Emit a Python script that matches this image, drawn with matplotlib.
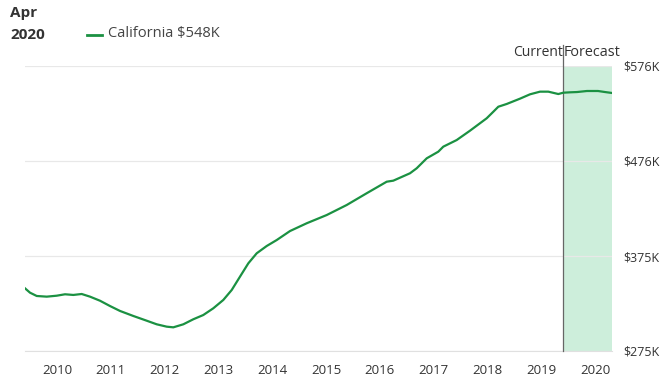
import matplotlib
matplotlib.use("Agg")
import matplotlib.pyplot as plt

plt.rcParams["font.family"] = ["Open Sans", "DejaVu Sans"]

# decimal year / median home value ($K)
years = [2009.405, 2009.498, 2009.623, 2009.809, 2009.994, 2010.149, 2010.303,
         2010.459, 2010.613, 2010.799, 2010.985, 2011.171, 2011.418, 2011.667,
         2011.853, 2012.039, 2012.162, 2012.348, 2012.533, 2012.719, 2012.905,
         2013.091, 2013.247, 2013.401, 2013.556, 2013.712, 2013.898, 2014.084,
         2014.331, 2014.641, 2015.013, 2015.385, 2015.756, 2016.128, 2016.251,
         2016.561, 2016.686, 2016.872, 2017.087, 2017.180, 2017.429, 2017.677,
         2017.987, 2018.110, 2018.203, 2018.359, 2018.606, 2018.792, 2018.978,
         2019.132, 2019.318, 2019.411, 2019.535, 2019.665, 2019.851, 2020.056,
         2020.186, 2020.316]
values = [341.2, 336.6, 333.1, 332.4, 333.4, 334.9, 334.2,
          335.2, 332.4, 328.1, 322.5, 317.3, 312.0, 307.0,
          303.2, 300.7, 300.0, 303.2, 308.5, 313.0, 320.1,
          328.9, 339.4, 353.5, 367.6, 378.2, 385.9, 392.2,
          401.7, 409.9, 418.6, 429.2, 441.6, 453.8, 454.9,
          462.7, 468.0, 478.5, 485.5, 490.8, 497.8, 507.7,
          520.8, 527.7, 533.0, 535.9, 541.5, 546.1, 548.9,
          548.9, 546.4, 547.8, 548.2, 548.5, 549.6, 549.6,
          548.5, 547.5]

forecast_start = 2019.41
forecast_end = 2020.316
year_ticks = list(range(2010, 2021))
value_ticks = [275, 375, 476, 576]
value_labels = ["$275K", "$375K", "$476K", "$576K"]

green = "#1b9142"
text_col = "#333333"

fig = plt.figure(figsize=(6.66, 3.9), dpi=100)
ax = fig.add_axes([25 / 666, 1 - 351 / 390, (612 - 25) / 666, (351 - 66) / 390])

ax.axvspan(forecast_start, forecast_end, color="#cdeedb", lw=0, zorder=1)
ax.axvline(forecast_start, ymin=0, ymax=1.074, color="#666666", lw=0.9,
           clip_on=False, zorder=3)
ax.plot(years, values, color=green, lw=1.6, zorder=4,
        solid_joinstyle="round")

ax.set_xlim(years[0], forecast_end)
ax.set_ylim(value_ticks[0], value_ticks[-1])
ax.set_yticks(value_ticks)
ax.set_yticklabels(value_labels)
ax.yaxis.tick_right()
ax.set_xticks(year_ticks)
ax.set_xticklabels([str(y) for y in year_ticks])
ax.tick_params(axis="both", length=0, colors=text_col)
ax.tick_params(axis="x", pad=9, labelsize=9.5)
ax.tick_params(axis="y", pad=8, labelsize=9)
ax.grid(axis="y", color="#e8e8e8", lw=0.9, zorder=0)
for s in ["top", "left", "right"]:
    ax.spines[s].set_visible(False)
ax.spines["bottom"].set_color("#e0e0e0")

fig.text(10 / 666, 1 - 13 / 390, "Apr", fontsize=11, fontweight="bold",
         color=text_col, va="center")
fig.text(10 / 666, 1 - 35 / 390, "2020", fontsize=11, fontweight="bold",
         color=text_col, va="center")
fig.add_artist(plt.Line2D([87 / 666, 102 / 666], [1 - 35 / 390, 1 - 35 / 390],
                          color=green, lw=2))
fig.text(108 / 666, 1 - 34 / 390, "California $548K", fontsize=10.5,
         color="#444444", va="center")

ax.text(forecast_start, 1.048, "Current", transform=ax.get_xaxis_transform(),
        ha="right", va="center", fontsize=10, color=text_col)
ax.text(forecast_start, 1.048, "Forecast", transform=ax.get_xaxis_transform(),
        ha="left", va="center", fontsize=10.4, color=text_col)

fig.savefig("out.png", dpi=100)
